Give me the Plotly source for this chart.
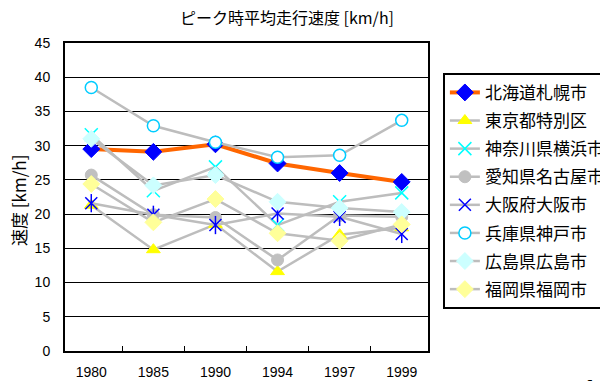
import plotly.graph_objects as go

years = ["1980", "1985", "1990", "1994", "1997", "1999"]

sapporo = [29.5, 29.1, 30.2, 27.4, 26.0, 24.7]
tokyo = [21.3, 14.8, 18.5, 11.6, 17.0, 18.0]
yokohama = [31.6, 23.4, 26.9, 18.4, 21.8, 23.1]
aichi = [25.7, 19.9, 19.5, 13.3, 19.8, 19.6]
osaka = [21.6, 19.9, 18.4, 20.1, 19.6, 17.1]
kobe = [38.5, 32.9, 30.5, 28.3, 28.6, 33.7]
hiroshima = [31.0, 24.2, 25.7, 21.8, 20.9, 20.3]
fukuoka = [24.4, 18.8, 22.2, 17.2, 16.1, 18.5]

GRAY = "#BDBDBD"
JP = "Noto Sans CJK JP"
LAT = "Liberation Sans"

fig = go.Figure()


def add(name, vals, line_color, line_width, symbol, size, fill, edge, edge_w=1, show=True, group=None, mode="lines+markers"):
    fig.add_trace(go.Scatter(
        x=years, y=vals, name=name, mode=mode,
        line=dict(color=line_color, width=line_width),
        marker=dict(symbol=symbol, size=size, color=fill,
                    line=dict(color=edge, width=edge_w)),
        showlegend=show, legendgroup=group or name,
    ))


add("北海道札幌市", sapporo, "#FF6600", 4, "diamond", 13, "#0000FF", "#0000FF")
add("東京都特別区", tokyo, GRAY, 2.5, "triangle-up", 12, "#FFFF00", "#FFFF00")
add("神奈川県横浜市", yokohama, GRAY, 2.5, "x-thin", 13, "#00FFFF", "#00FFFF", 1.5)
add("愛知県名古屋市", aichi, GRAY, 2.5, "circle", 12, "#C0C0C0", "#C0C0C0")
add("大阪府大阪市", osaka, GRAY, 2.5, "x-thin", 12, "#0000FF", "#0000FF", 1.5)
# vertical stroke completing the six-armed star marker
add("大阪府大阪市", osaka, GRAY, 2.5, "line-ns", 13, "#0000FF", "#0000FF", 1.5,
    show=False, group="大阪府大阪市", mode="markers")
add("兵庫県神戸市", kobe, GRAY, 2.5, "circle", 12, "#FFFFFF", "#00CCFF", 1.5)
add("広島県広島市", hiroshima, GRAY, 2.5, "diamond", 13, "#CCFFFF", "#CCFFFF")
add("福岡県福岡市", fukuoka, GRAY, 2.5, "diamond", 13, "#FFFF99", "#FFFF99")

fig.update_layout(
    width=600, height=381,
    margin=dict(l=65, r=172, t=43, b=30, autoexpand=False),
    paper_bgcolor="white", plot_bgcolor="white",
    font=dict(family=LAT, size=14, color="black"),
    title=dict(text="ピーク時平均走行速度 [km/h]", x=287 / 600, xanchor="center",
               y=1 - 18 / 381, yanchor="middle",
               font=dict(family=JP, size=16, color="black")),
    legend=dict(x=1.041, xanchor="left", y=0.903, yanchor="top",
                bordercolor="black", borderwidth=2, bgcolor="white",
                font=dict(family=JP, size=17, color="black"),
                tracegroupgap=3, itemsizing="trace"),
)

fig.update_xaxes(
    type="category", showgrid=False,
    showline=True, linecolor="black", linewidth=2, mirror=True,
    ticks="inside", tickson="boundaries", ticklen=5, tickcolor="black",
    ticklabelstandoff=7,
    tickfont=dict(family=LAT, size=14),
)
fig.update_yaxes(
    range=[0, 45], dtick=5, tick0=0,
    showgrid=True, gridcolor="black", gridwidth=1,
    showline=True, linecolor="black", linewidth=2, mirror=True,
    ticks="inside", ticklen=5, tickcolor="black",
    ticklabelstandoff=10, zeroline=False,
    tickfont=dict(family=LAT, size=14),
)

fig.add_annotation(
    text="速度 [km/h]", textangle=-90, showarrow=False,
    xref="paper", yref="paper", x=(18 - 65) / 363, y=(351 - 201) / 308,
    xanchor="center", yanchor="middle",
    font=dict(family=JP, size=17, color="black"),
)
fig.add_annotation(
    text="<b>1</b>", showarrow=False,
    xref="paper", yref="paper", x=(589 - 65) / 363, y=(351 - 388) / 308,
    xanchor="center", yanchor="middle",
    font=dict(family=LAT, size=24, color="black"),
)

fig.write_html("out.html")
